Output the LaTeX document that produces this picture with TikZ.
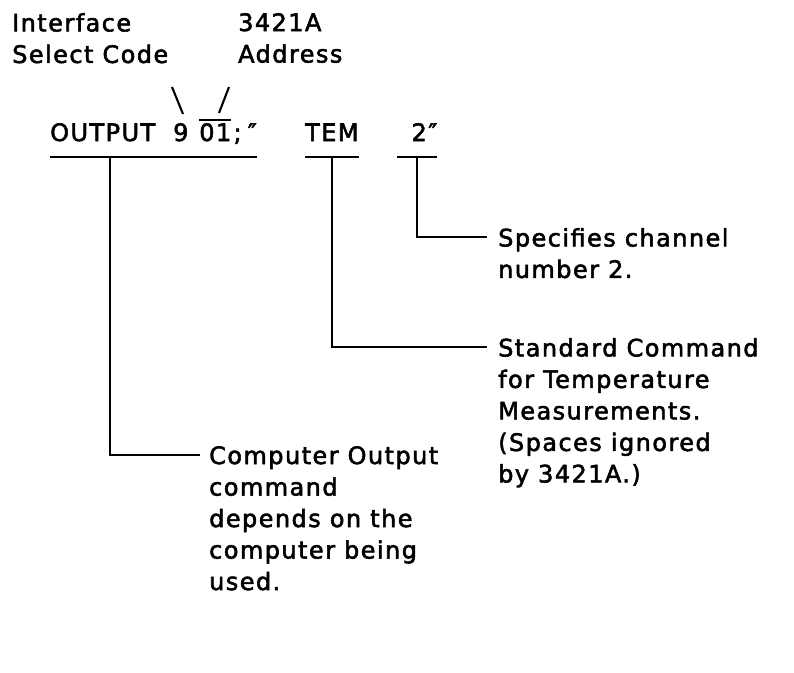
\documentclass[tikz,border=0pt]{standalone}
\usepackage{fontspec}
\newfontfamily\manualfont{DejaVu Sans}[LetterSpace=6,FakeBold=2.2]
\usetikzlibrary{positioning}
\newcommand{\ovl}[1]{\setbox0\hbox{#1}\rlap{\rule[\dimexpr\ht0+2pt\relax]{\wd0}{2.4pt}}\box0}

\begin{document}
\begin{tikzpicture}[x=1pt, y=-1pt,
  font=\manualfont\fontsize{24}{31.5}\selectfont,
  note/.style={anchor=north west, inner sep=0pt, align=left},
  cmd/.style={anchor=base west, inner xsep=0pt, inner ysep=0pt, text depth=16pt},
  lead/.style={line width=2.1pt}
]
\useasboundingbox (0,0) rectangle (794,672);

% what the parts of the address are
\node[note] (isc) at (12,13) {Interface\\Select Code};
\node[note] (addr) at (238,13) {3421A\\Address};
\coordinate (isc-tip) at (183,114);
\coordinate (addr-tip) at (219,113);
\draw[lead] (isc-tip) -- ++(-11,-27);
\draw[lead] (addr-tip) -- ++(10,-26);

% the statement itself
\node[cmd] (out) at (50,141) {OUTPUT\hspace{0.75em}9\hspace{0.45em}\ovl{01}\hspace{0.1em};\hspace{0.25em}″\hspace{0.35em}};
\node[cmd] (tem) at (305,141) {TEM};
\node[cmd] (chan) at (397,141) {\hspace*{0.6em}2″};
\draw[lead] (out.south west) -- (out.south east);
\draw[lead] (tem.south west) -- (tem.south east);
\draw[lead] (chan.south west) -- (chan.south east);

% notes on the right and below
\node[note] (chan-note) at (498,228) {Specifies channel\\number 2.};
\node[note] (tem-note) at (498,338) {Standard Command\\for Temperature\\Measurements.\\(Spaces ignored\\by 3421A.)};
\node[note] (out-note) at (209,446) {Computer Output\\command\\depends on the\\computer being\\used.};

\draw[lead] (chan.south) |- ([xshift=-11pt,yshift=-9pt]chan-note.north west);
\draw[lead] (tem.south) |- ([xshift=-11pt,yshift=-9pt]tem-note.north west);
\draw[lead] ([xshift=60pt]out.south west) |- ([xshift=-9pt,yshift=-9pt]out-note.north west);
\end{tikzpicture}
\end{document}
